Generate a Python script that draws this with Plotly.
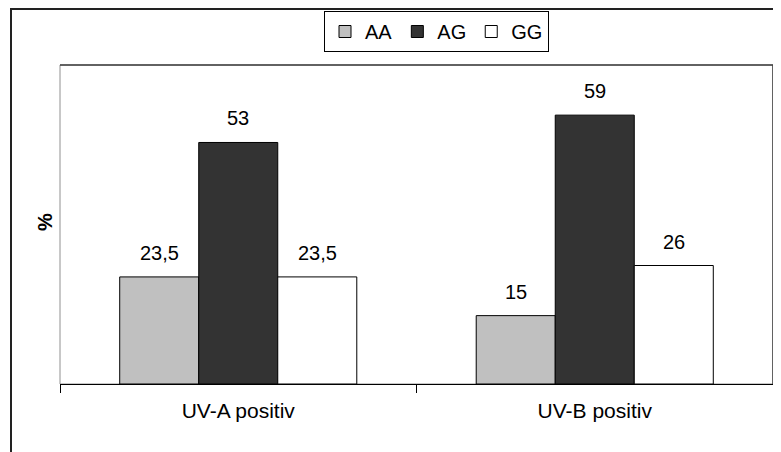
import plotly.graph_objects as go

categories = ["UV-A positiv", "UV-B positiv"]
series_names = ["AA", "AG", "GG"]
aa_values = [23.5, 15]
ag_values = [53, 59]
gg_values = [23.5, 26]
aa_labels = ["23,5", "15"]
ag_labels = ["53", "59"]
gg_labels = ["23,5", "26"]
y_title = "%"

colors = ["#C0C0C0", "#333333", "#FFFFFF"]
FONT = "Liberation Sans, Arial, sans-serif"

OFF = 8  # page body margin
W, H = 781 - OFF, 452 - OFF
L, R, T, B = 60 - OFF, 773 - OFF, 65 - OFF, 384 - OFF
pw, ph = R - L, B - T
BARGAP = 0.335

def px_x(x):
    return (x - OFF - L) / pw

def px_y(y):
    return (B - (y - OFF)) / ph

fig = go.Figure()
all_vals = [aa_values, ag_values, gg_values]
all_labs = [aa_labels, ag_labels, gg_labels]
for name, vals, col in zip(series_names, all_vals, colors):
    fig.add_trace(go.Bar(
        name=name, x=categories, y=vals,
        marker=dict(color=col, line=dict(color="#000000", width=1)),
    ))

# value labels above bars (category index + offset inside the group)
n = len(series_names)
bw = (1 - BARGAP) / n
for i, (vals, labs) in enumerate(zip(all_vals, all_labs)):
    for c, (v, lab) in enumerate(zip(vals, labs)):
        fig.add_annotation(
            x=c + (i - (n - 1) / 2) * bw, y=v, xref="x", yref="y",
            text=lab, showarrow=False, yanchor="bottom", xanchor="center",
            yshift=11, font=dict(family=FONT, size=20, color="#000000"),
        )

fig.update_layout(
    width=W, height=H,
    margin=dict(l=L, r=W - R, t=T, b=H - B, pad=0, autoexpand=False),
    paper_bgcolor="#FFFFFF", plot_bgcolor="#FFFFFF",
    barmode="group", bargap=BARGAP, bargroupgap=0,
    font=dict(family=FONT, size=20, color="#000000"),
    showlegend=True,
    legend=dict(
        orientation="h", x=px_x(436.5), xanchor="center",
        y=px_y(11), yanchor="top",
        bordercolor="#000000", borderwidth=1,
        font=dict(family=FONT, size=20, color="#000000"),
        itemwidth=30, tracegroupgap=0,
    ),
    xaxis=dict(
        showline=True, linecolor="#000000", linewidth=1,
        ticks="outside", tickson="boundaries", ticklen=8, tickcolor="#000000",
        ticklabelstandoff=8, automargin=False,
        showgrid=False, zeroline=False,
        tickfont=dict(family=FONT, size=21, color="#000000"),
    ),
    yaxis=dict(
        range=[0, 70], showticklabels=False, showgrid=False, zeroline=False,
        showline=False, ticks="", automargin=False,
    ),
)

# plot-area frame
fig.add_shape(type="rect", xref="paper", yref="paper", x0=0, x1=1, y0=0, y1=1,
              line=dict(color="#909090", width=1), layer="below")
fig.add_shape(type="line", xref="paper", yref="paper", x0=0, x1=1, y0=1, y1=1,
              line=dict(color="#404040", width=1.5))
fig.add_shape(type="line", xref="paper", yref="paper", x0=1, x1=1, y0=0, y1=1,
              line=dict(color="#404040", width=1.5))
# outer chart frame (top edge kept just inside the figure)
fig.add_shape(type="rect", xref="paper", yref="paper",
              x0=px_x(11), x1=px_x(780), y0=px_y(470), y1=px_y(9),
              line=dict(color="#222222", width=2))

fig.add_annotation(text="<b>" + y_title + "</b>", xref="paper", yref="paper",
                   x=px_x(45), y=px_y(222), xanchor="center", yanchor="middle",
                   showarrow=False, textangle=-90,
                   font=dict(family=FONT, size=20, color="#000000"))

fig.write_html("out.html")
